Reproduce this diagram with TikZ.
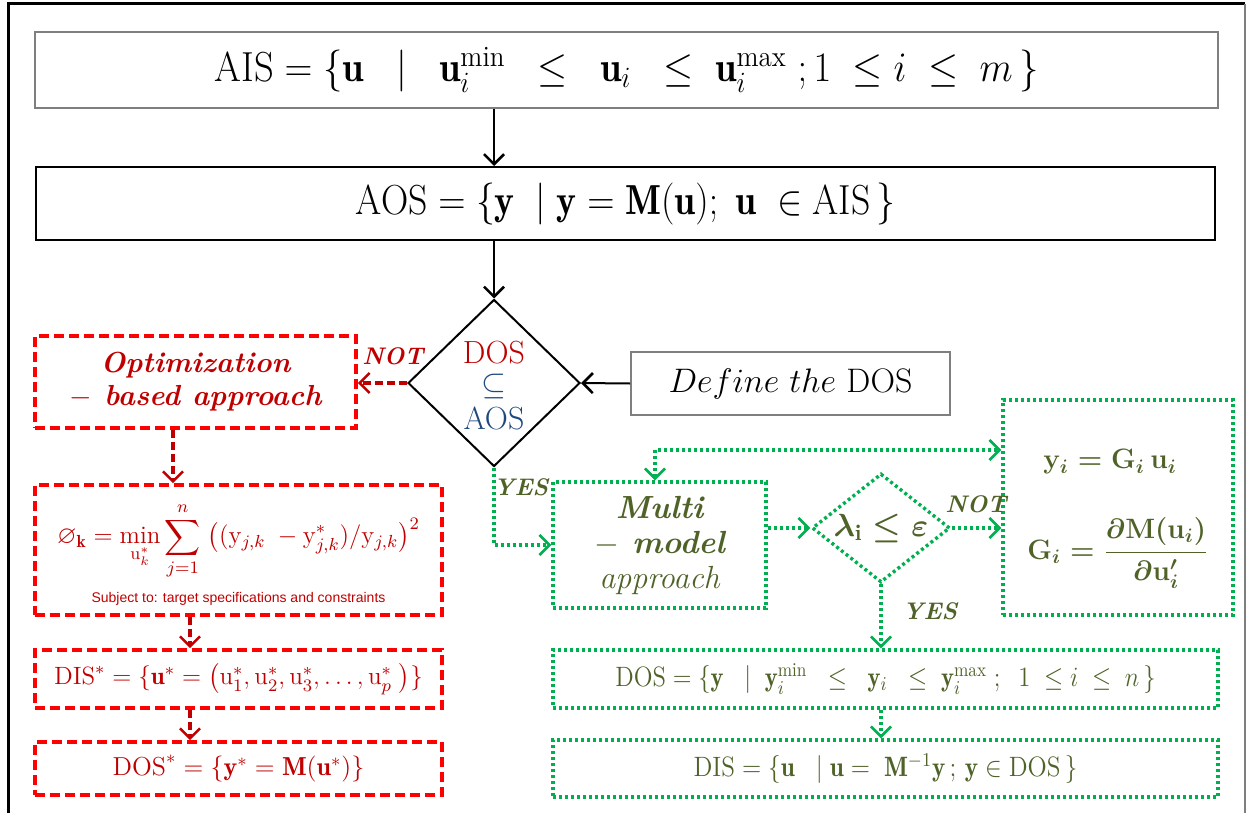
\RequirePackage{fix-cm}
\documentclass[tikz,border=0pt]{standalone}
\usepackage{amsmath,amssymb}
\usepackage{fontspec}
\newfontfamily\arialfont{Liberation Sans}
\usetikzlibrary{arrows.meta,shapes.geometric,calc}
\definecolor{boxred}{HTML}{FF0000}
\definecolor{txtred}{HTML}{C00000}
\definecolor{flowgreen}{HTML}{00B050}
\definecolor{olive}{HTML}{4F6228}
\definecolor{slateblue}{HTML}{1F497D}
\definecolor{framegray}{HTML}{7F7F7F}
\tikzset{
  plainbox/.style={draw=framegray, line width=1pt, rectangle, inner sep=0pt},
  blackbox/.style={draw=black, line width=1pt, rectangle, inner sep=0pt},
  redbox/.style={draw=boxred, line width=1.8pt, dash pattern=on 5pt off 2.5pt, rectangle, inner sep=0pt, text=txtred},
  greenbox/.style={draw=flowgreen, line width=1.7pt, dash pattern=on 1.5pt off 1.5pt, rectangle, inner sep=0pt, text=olive},
  tip/.style={-{Straight Barb[length=5pt,width=10pt,line width=1.3pt]}},
  blackarrow/.style={draw=black, line width=1pt, tip},
  redarrow/.style={draw=txtred, line width=1.6pt, dash pattern=on 4pt off 2pt, tip},
  greenarrow/.style={draw=flowgreen, line width=1.8pt, dash pattern=on 1.5pt off 1.5pt, tip},
  redlabel/.style={text=txtred, font=\fontsize{12}{14}\selectfont\bfseries\itshape},
  greenlabel/.style={text=olive, font=\fontsize{12}{14}\selectfont\bfseries\itshape},
}
\begin{document}
\begin{tikzpicture}[x=0.5pt,y=-0.5pt]
\useasboundingbox (0,0) rectangle (1247,813);
% outer frame
\draw[line width=1.5pt] (8,815) -- (8,4) -- (1245,4);
\draw[framegray, line width=0.8pt] (1245,4) -- (1245,815);

% admissible input / output spaces
\node[plainbox, minimum width=591.5pt, minimum height=38pt,
      font=\fontsize{21}{25}\selectfont] (ais) at (626.5,70)
  {\scalebox{0.92}[1]{$\mathrm{AIS} = \{\mathbf{u} \;\;\mid\;\; \mathbf{u}_i^{\min} \;\;\le\;\; \mathbf{u}_i \;\;\le\;\mathbf{u}_i^{\max}\;;1 \;\le i \;\le\; m\,\}$}};
\node[blackbox, minimum width=589.5pt, minimum height=36.5pt,
      font=\fontsize{21}{25}\selectfont] (aos) at (625.5,203.5)
  {\scalebox{0.9}[1]{$\mathrm{AOS} = \{\mathbf{y} \;\mid \mathbf{y} = \mathbf{M}(\mathbf{u});\; \mathbf{u}\; \in \mathrm{AIS}\,\}$}};

% decision DOS within AOS
\node[draw, diamond, line width=1pt, minimum width=86pt, minimum height=83.5pt, inner sep=0pt] (dia) at (494,383) {};
\node[align=center, font=\fontsize{16}{16.5}\selectfont] (diatext) at (494,386)
  {\textcolor{txtred}{DOS}\\[-1pt] \textcolor{slateblue}{$\subseteq$}\\[1pt] \textcolor{slateblue}{AOS}};
\node[plainbox, minimum width=159.5pt, minimum height=31.5pt,
      font=\fontsize{17}{20}\selectfont] (define) at (790.5,383.5)
  {$Define\ the\ \mathrm{DOS}$};

% optimization branch
\node[redbox, minimum width=160.5pt, minimum height=46pt, align=center,
      font=\fontsize{14.5}{16.5}\selectfont\bfseries\itshape] (opt) at (195.5,382)
  {Optimization\\ $-$ based approach};
\node[redbox, minimum width=203.5pt, minimum height=65pt] (form) at (238.5,550) {};
\node[text=txtred, font=\fontsize{12.5}{14}\selectfont, inner sep=0pt] (formula) at (238.5,541)
  {$\displaystyle \varnothing_{\mathbf{k}} = \min_{\mathrm{u}_k^*}\sum_{j=1}^{n}\;\bigl((\mathrm{y}_{j,k}\; - \mathrm{y}^*_{j,k})/\mathrm{y}_{j,k}\bigr)^2$};
\node[text=txtred, font=\fontsize{7}{8}\arialfont, inner sep=1pt] (subject) at (238.5,599)
  {Subject to: target specifications and constraints};
\node[redbox, minimum width=203.5pt, minimum height=29pt,
      font=\fontsize{12.5}{15}\selectfont] (disstar) at (238.5,679)
  {$\mathrm{DIS}^* = \{\mathbf{u}^* = \bigl(\mathrm{u}_1^*, \mathrm{u}_2^*, \mathrm{u}_3^*, \ldots, \mathrm{u}_p^*\;\bigr)\}$};
\node[redbox, minimum width=203.5pt, minimum height=26.5pt,
      font=\fontsize{13}{15}\selectfont] (dosstar) at (238.5,768.5)
  {$\mathrm{DOS}^* = \{\mathbf{y}^* = \mathbf{M}(\mathbf{u}^*)\}$};

% multi-model branch
\node[greenbox, minimum width=106.5pt, minimum height=63pt, align=center,
      font=\fontsize{16}{17.5}\selectfont\itshape] (multi) at (659.5,545)
  {\textbf{Multi}\\ \textbf{$-$ model}\\ approach};
\node[draw=flowgreen, line width=1.7pt, dash pattern=on 1.5pt off 1.5pt, diamond,
      minimum width=69pt, minimum height=54.5pt, inner sep=0pt] (lam) at (881,528) {};
\node[text=olive, font=\fontsize{16}{18}\selectfont\boldmath] (lamtext) at (881,528)
  {$\lambda_{\mathrm{i}} \le \varepsilon$};
\node[greenbox, minimum width=115pt, minimum height=107.5pt] (gbox) at (1118,507.5) {};
\node[text=olive, font=\fontsize{14}{17}\selectfont\boldmath] (gy) at (1110,462)
  {$\mathbf{y}_i = \mathbf{G}_i\,\mathbf{u}_i$};
\node[text=olive, font=\fontsize{14}{17}\selectfont\boldmath] (gg) at (1118,553)
  {$\mathbf{G}_i = \dfrac{\partial\mathbf{M}(\mathbf{u}_i)}{\partial\mathbf{u}'_i}$};
\node[greenbox, minimum width=332.5pt, minimum height=29pt,
      font=\fontsize{14}{17}\selectfont] (dos) at (885.5,679)
  {\scalebox{0.88}[1]{$\mathrm{DOS} = \{\mathbf{y} \;\;\mid\; \mathbf{y}_i^{\min} \;\;\le\;\; \mathbf{y}_i \;\;\le\; \mathbf{y}_i^{\max}\;;\;\; 1 \;\le i \;\le\; n\,\}$}};
\node[greenbox, minimum width=332.5pt, minimum height=28.5pt,
      font=\fontsize{14}{17}\selectfont] (dis) at (885.5,768.5)
  {\scalebox{0.9}[1]{$\mathrm{DIS} = \{\mathbf{u} \;\;\mid \mathbf{u} = \;\mathbf{M}^{-1}\mathbf{y}\,;\,\mathbf{y}\in\mathrm{DOS}\,\}$}};

% connectors
\draw[blackarrow] (ais.south -| dia.north) -- (aos.north -| dia.north);
\draw[blackarrow] (aos.south -| dia.north) -- (dia.north);
\draw[blackarrow] (define.west) -- (dia.east);

\draw[redarrow] (dia.west) -- (dia.west -| opt.east);
\draw[redarrow] ([xshift=-11.25pt]opt.south) -- ([xshift=-11.25pt]opt.south |- form.north);
\draw[redarrow] ([xshift=-24.25pt]form.south) -- ([xshift=-24.25pt]form.south |- disstar.north);
\draw[redarrow] ([xshift=-24.25pt]disstar.south) -- ([xshift=-24.25pt]disstar.south |- dosstar.north);

\draw[greenarrow] (dia.south) -- (dia.south |- multi.west) -- (multi.west);
\draw[greenarrow] (multi.east |- lam.west) -- (lam.west);
\draw[greenarrow] (lam.east) -- (lam.east -| gbox.west);
\coordinate (loop) at (655,450);
\draw[greenarrow, {Straight Barb[length=5pt,width=10pt,line width=1.3pt]}-{Straight Barb[length=5pt,width=10pt,line width=1.3pt]}]
  (loop |- multi.north) -- (loop) -- (loop -| gbox.west);
\draw[greenarrow] (lam.south) -- (lam.south |- dos.north);
\draw[greenarrow] (dos.south -| lam.south) -- (dis.north -| lam.south);

% branch labels
\node[redlabel] (notleft) at (393,356) {NOT};
\node[greenlabel] (yesleft) at (521,487) {YES};
\node[greenlabel] (notright) at (976,504) {NOT};
\node[greenlabel] (yesright) at (930,611) {YES};
\end{tikzpicture}
\end{document}
